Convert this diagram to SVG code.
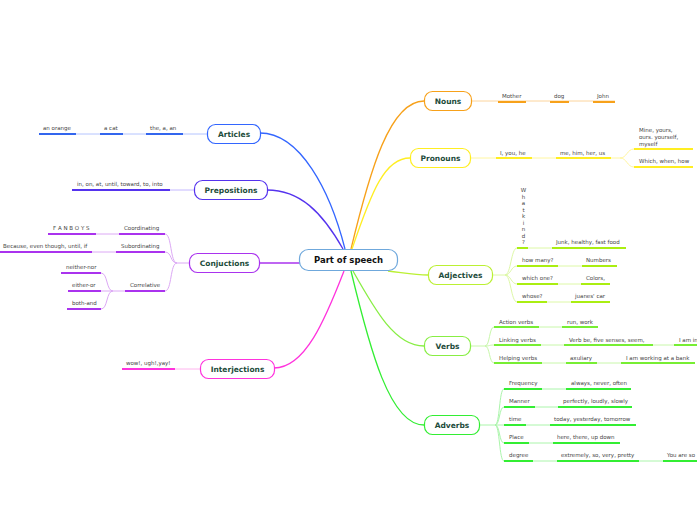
<svg xmlns="http://www.w3.org/2000/svg" width="697" height="520" viewBox="0 0 697 520">
<style>
text{font-family:"DejaVu Sans","Liberation Sans",sans-serif}
.t{font-size:5.5px;fill:#444}
.n{font-size:7.5px;font-weight:bold;fill:#1d4c3b;text-anchor:middle}
.c{font-size:8.5px;font-weight:bold;fill:#111;text-anchor:middle}
.box{fill:#fff;stroke-width:1.2}
.main{fill:none;stroke-width:1.3}
.thin{fill:none;stroke-width:1}
.u{fill:none;stroke-width:2}
</style>
<rect width="697" height="520" fill="#fff"/>
<g id="connectors">
<path class="main" stroke="#3366ff" d="M345,249 C330,190 300,133 260,133"/>
<path class="main" stroke="#5533ee" d="M343,249 C322,212 300,190 267,190"/>
<path class="main" stroke="#f7a11a" d="M351,249 C370,170 390,101 424,101"/>
<path class="main" stroke="#ffee22" d="M352,249 C372,190 385,158 410,158"/>
<path class="main" stroke="#bbf033" d="M388,271 C405,273 415,275 428,275"/>
<path class="main" stroke="#88ee44" d="M353,271 C375,310 395,346 424,346"/>
<path class="main" stroke="#33ee33" d="M351,271 C370,350 390,425 424,425"/>
<path class="main" stroke="#ff33dd" d="M344,271 C325,320 305,368 274,368"/>
<path class="main" stroke="#aa33ee" d="M259,263 L300,263"/>
<!-- Articles -->
<path class="thin" stroke="#b4c4ff" d="M207,134 L39,134"/>
<path class="u" stroke="#3366ee" d="M146,134 H183 M100,134 H123 M39,134 H76"/>
<!-- Prepositions -->
<path class="thin" stroke="#c4b8ff" d="M194,190 L72,190"/>
<path class="u" stroke="#5533ee" d="M72,190 H170"/>
<!-- Conjuctions -->
<path class="thin" stroke="#dca8f5" d="M189,263 H177 M177,263 C170,263 172,234 165,234 M177,263 C170,263 172,252 165,252 M177,263 C170,263 172,291 165,291 M119,234 H96 M116,252 H92 M125,291 H113 M113,291 C106,291 108,273 101,273 M113,291 H101 M113,291 C106,291 108,309 101,309"/>
<path class="u" stroke="#aa33ee" d="M119,234 H165 M48,234 H96 M116,252 H165 M0,252 H92 M125,291 H165 M61,273 H101 M68,291 H101 M67,309 H101"/>
<!-- Interjections -->
<path class="thin" stroke="#ffb4ee" d="M200,369 H122"/>
<path class="u" stroke="#ff33dd" d="M122,369 H175"/>
<!-- Nouns -->
<path class="thin" stroke="#fcd49c" d="M472,101 H615"/>
<path class="u" stroke="#f7a11a" d="M498,102 H526 M550,102 H569 M593,102 H615"/>
<!-- Pronouns -->
<path class="thin" stroke="#fff6a0" d="M470,158 H620 M620,158 C627,158 627,149 634,149 M620,158 C627,158 627,167 634,167"/>
<path class="u" stroke="#ffee22" d="M496,158 H532 M556,158 H611 M634,149 H693 M634,167 H693"/>
<!-- Adjectives -->
<path class="thin" stroke="#ddf8a6" d="M492,275 H505 M505,275 C511,275 511,248 517,248 M505,275 C511,275 511,266 517,266 M505,275 C511,275 511,284 517,284 M505,275 C511,275 511,302 517,302 M528,248 H552 M558,266 H582 M558,284 H581 M547,302 H571"/>
<path class="u" stroke="#aaee11" d="M517,248 H528 M552,248 H626 M517,266 H558 M582,266 H617 M517,284 H558 M581,284 H610 M517,302 H547 M571,302 H610"/>
<!-- Verbs -->
<path class="thin" stroke="#c8f7aa" d="M470,346 H485 M485,346 C490,346 489,327 494,327 M485,346 C490,346 489,345 494,345 M485,346 C490,346 489,363 494,363 M539,327 H562 M541,345 H564 M653,345 H674 M542,363 H566 M597,363 H621"/>
<path class="u" stroke="#77ee33" d="M494,327 H539 M562,327 H598 M494,345 H541 M564,345 H653 M674,345 H697 M494,363 H542 M566,363 H597 M621,363 H695"/>
<!-- Adverbs -->
<path class="thin" stroke="#aaf5aa" d="M479,425 H495 M495,425 C500,425 499,389 504,389 M495,425 C500,425 499,407 504,407 M495,425 H504 M495,425 C500,425 499,443 504,443 M495,425 C500,425 499,461 504,461 M542,389 H566 M535,407 H558 M526,425 H550 M529,443 H553 M533,461 H557 M639,461 H663"/>
<path class="u" stroke="#33ee33" d="M504,389 H542 M566,389 H631 M504,407 H535 M558,407 H632 M504,425 H526 M550,425 H636 M504,443 H529 M553,443 H620 M504,461 H533 M557,461 H639 M663,461 H697"/>
</g>

<g id="central"><rect class="box" x="299.5" y="249.5" width="98" height="21" rx="9" stroke="#6fa8dc"/><text class="c" x="348.5" y="263">Part of speech</text></g>
<g id="nouns"><rect class="box" x="424.5" y="91.5" width="47" height="19" rx="8" stroke="#f7a11a"/><text class="n" x="448" y="104">Nouns</text></g>
<g id="pronouns"><rect class="box" x="410.5" y="148.5" width="60" height="19" rx="8" stroke="#ffee22"/><text class="n" x="440.5" y="161">Pronouns</text></g>
<g id="adjectives"><rect class="box" x="428.5" y="265.5" width="64" height="19" rx="8" stroke="#bbf033"/><text class="n" x="460.5" y="278">Adjectives</text></g>
<g id="verbs"><rect class="box" x="424.5" y="336.5" width="46" height="19" rx="8" stroke="#88ee44"/><text class="n" x="447.5" y="349">Verbs</text></g>
<g id="adverbs"><rect class="box" x="424.5" y="415.5" width="55" height="19" rx="8" stroke="#33ee33"/><text class="n" x="452" y="428">Adverbs</text></g>
<g id="articles"><rect class="box" x="207.5" y="124.5" width="53" height="19" rx="8" stroke="#3366ff"/><text class="n" x="234" y="137">Articles</text></g>
<g id="prepositions"><rect class="box" x="194.5" y="180.5" width="73" height="19" rx="8" stroke="#5533ee"/><text class="n" x="231" y="193">Prepositions</text></g>
<g id="conjuctions"><rect class="box" x="189.5" y="253.5" width="70" height="19" rx="8" stroke="#aa33ee"/><text class="n" x="224.5" y="266">Conjuctions</text></g>
<g id="interjections"><rect class="box" x="200.5" y="359.5" width="74" height="19" rx="8" stroke="#ff33dd"/><text class="n" x="237.5" y="372">Interjections</text></g>

<g id="articles-items">
<text class="t" x="150" y="130">the, a, an</text>
<text class="t" x="104" y="130">a cat</text>
<text class="t" x="43" y="130">an orange</text>
</g>
<g id="prepositions-items"><text class="t" x="77" y="186">in, on, at, until, toward, to, into</text></g>
<g id="conjuctions-items">
<text class="t" x="124" y="230">Coordinating</text>
<text class="t" x="53" y="230">F A N B O Y S</text>
<text class="t" x="121" y="248">Subordinating</text>
<text class="t" x="3" y="248">Because, even though, until, if</text>
<text class="t" x="130" y="287">Correlative</text>
<text class="t" x="66" y="269">neither-nor</text>
<text class="t" x="72" y="287">either-or</text>
<text class="t" x="72" y="305">both-and</text>
</g>
<g id="interjections-items"><text class="t" x="126" y="365">wow!, ugh!,yay!</text></g>
<g id="nouns-items">
<text class="t" x="502" y="98">Mother</text>
<text class="t" x="554" y="98">dog</text>
<text class="t" x="597" y="98">John</text>
</g>
<g id="pronouns-items">
<text class="t" x="500" y="155">I, you, he</text>
<text class="t" x="560" y="155">me, him, her, us</text>
<text class="t" x="639" y="131.5">Mine, yours,</text>
<text class="t" x="639" y="138.5">ours. yourself,</text>
<text class="t" x="639" y="145.5">myself</text>
<text class="t" x="639" y="163">Which, when, how</text>
</g>
<g id="adjectives-items">
<text class="t" text-anchor="middle"><tspan x="523.5" y="192">W</tspan><tspan x="523.5" y="198.5">h</tspan><tspan x="523.5" y="205">a</tspan><tspan x="523.5" y="211.5">t</tspan><tspan x="523.5" y="218">k</tspan><tspan x="523.5" y="224.5">i</tspan><tspan x="523.5" y="231">n</tspan><tspan x="523.5" y="237.5">d</tspan><tspan x="523.5" y="244">?</tspan></text>
<text class="t" x="556" y="244">Junk, healthy, fast food</text>
<text class="t" x="522" y="262">how many?</text>
<text class="t" x="586" y="262">Numbers</text>
<text class="t" x="522" y="280">which one?</text>
<text class="t" x="586" y="280">Colors,</text>
<text class="t" x="522" y="298">whose?</text>
<text class="t" x="575" y="298">juanes' car</text>
</g>
<g id="verbs-items">
<text class="t" x="499" y="324">Action verbs</text>
<text class="t" x="567" y="324">run, work</text>
<text class="t" x="499" y="342">Linking verbs</text>
<text class="t" x="569" y="342">Verb be, five senses, seem,</text>
<text class="t" x="679" y="342">I am in</text>
<text class="t" x="499" y="360">Helping verbs</text>
<text class="t" x="570" y="360">axuliary</text>
<text class="t" x="626" y="360">I am working at a bank</text>
</g>
<g id="adverbs-items">
<text class="t" x="509" y="385">Frequency</text>
<text class="t" x="571" y="385">always, never, often</text>
<text class="t" x="509" y="403">Manner</text>
<text class="t" x="563" y="403">perfectly, loudly, slowly</text>
<text class="t" x="509" y="421">time</text>
<text class="t" x="554" y="421">today, yesterday, tomorrow</text>
<text class="t" x="509" y="439">Place</text>
<text class="t" x="557" y="439">here, there, up down</text>
<text class="t" x="509" y="457">degree</text>
<text class="t" x="561" y="457">extremely, so, very, pretty</text>
<text class="t" x="667" y="457">You are so</text>
</g>
</svg>
